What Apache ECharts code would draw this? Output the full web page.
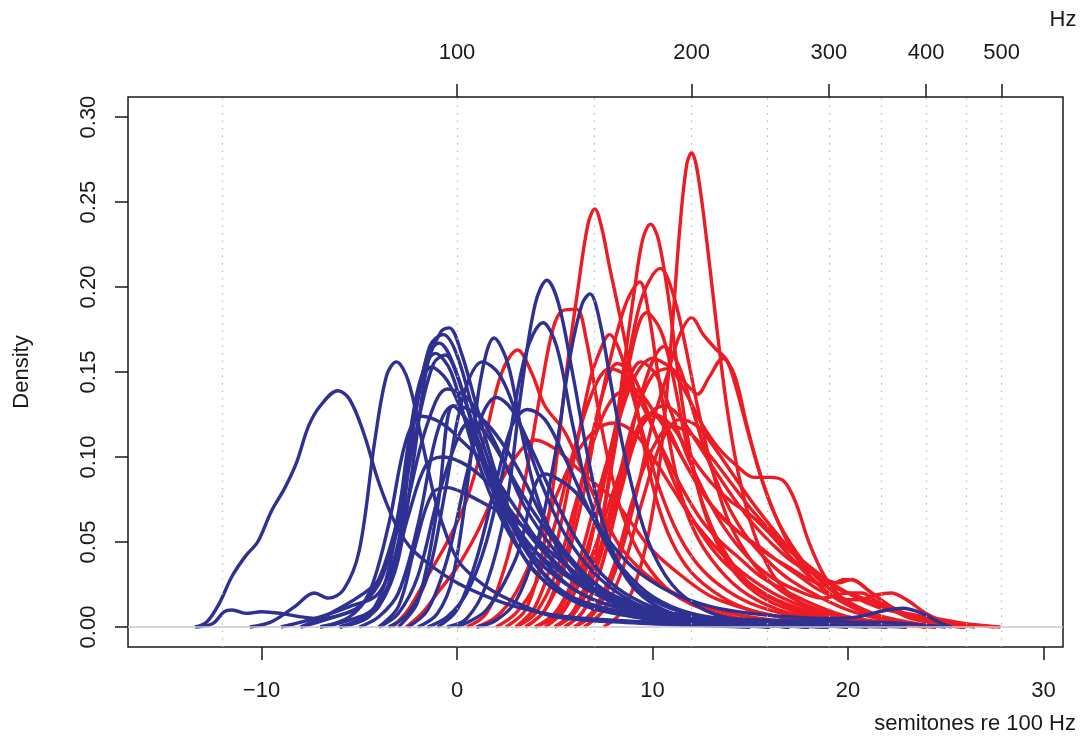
<!DOCTYPE html>
<html>
<head>
<meta charset="utf-8">
<script src="https://cdn.jsdelivr.net/npm/echarts@6/dist/echarts.min.js"></script>
<style>
html,body{margin:0;padding:0;background:#fff;}
#chart{width:1083px;height:740px;}
</style>
</head>
<body>
<div id="chart"></div>
<script>
// ---- axis ticks / labels ----
const xTicks = [-10, 0, 10, 20, 30];
const yTicks = [0, 0.05, 0.10, 0.15, 0.20, 0.25, 0.30];
const hzTicks = [100, 200, 300, 400, 500];
const hzGrid = [50, 100, 150, 200, 250, 300, 350, 400, 450, 500];

// ---- blue curves: [semitones, density] ----
const b01 = [[-13.4,0],[-12.8,0.003],[-12.2,0.013],[-11.5,0.03],[-10.8,0.042],[-10.2,0.05],[-9.5,0.068],[-8.8,0.082],[-8.2,0.097],[-7.6,0.118],[-7.0,0.13],[-6.1,0.139],[-5.5,0.134],[-4.8,0.115],[-4.0,0.085],[-3.2,0.062],[-2.4,0.047],[-1.2,0.035],[0,0.026],[1.5,0.018],[3,0.012],[5,0.007],[8,0.004],[12,0.002],[16,0]];
const b02 = [[-13.3,0],[-12.5,0.002],[-11.9,0.009],[-11.5,0.010],[-10.8,0.008],[-10,0.009],[-9,0.008],[-8,0.006],[-7,0.005],[-6,0.007],[-5,0.012],[-4,0.028],[-3,0.065],[-2,0.12],[-1.2,0.155],[-0.6,0.160],[0,0.148],[1,0.11],[2,0.075],[3,0.05],[4,0.032],[6,0.015],[8,0.008],[11,0.004],[15,0.002],[20,0.001],[23,0]];
const b03 = [[-10.6,0],[-9.5,0.003],[-8.3,0.012],[-7.3,0.02],[-6.6,0.017],[-5.8,0.022],[-5,0.045],[-4.2,0.11],[-3.6,0.148],[-3.1,0.156],[-2.5,0.145],[-1.8,0.11],[-1,0.07],[0,0.04],[1,0.028],[2,0.02],[3.5,0.012],[5,0.006],[8,0.003],[12,0.001],[15,0]];
const b04 = [[-6,0],[-5,0.004],[-4,0.012],[-3,0.04],[-2.2,0.1],[-1.5,0.155],[-0.8,0.174],[-0.4,0.176],[0.2,0.162],[1,0.13],[2,0.09],[3,0.06],[4,0.038],[5.5,0.02],[7,0.012],[9,0.006],[12,0.002],[15,0]];
const b05 = [[-8,0],[-6.5,0.008],[-5,0.018],[-4,0.028],[-3,0.06],[-2.2,0.12],[-1.4,0.165],[-0.7,0.172],[0,0.16],[1,0.12],[2,0.085],[3,0.055],[4.5,0.03],[6,0.017],[8,0.01],[10,0.006],[13,0.004],[17,0.002],[21,0]];
const b06 = [[-9,0],[-7,0.006],[-5.5,0.012],[-4,0.02],[-3,0.05],[-2.2,0.12],[-1.5,0.16],[-0.9,0.167],[-0.2,0.155],[0.8,0.12],[2,0.08],[3.5,0.048],[5,0.03],[7,0.016],[9,0.01],[12,0.006],[16,0.004],[20,0.003],[23,0.002],[25,0]];
const b07 = [[-8,0],[-6.5,0.005],[-5,0.012],[-3.8,0.03],[-2.8,0.08],[-2,0.14],[-1.1,0.161],[-0.3,0.15],[0.7,0.11],[2,0.07],[3.5,0.04],[5,0.022],[7,0.012],[10,0.006],[14,0.003],[19,0.001],[22,0]];
const b08 = [[-7,0],[-5.5,0.004],[-4.2,0.012],[-3.2,0.05],[-2.3,0.12],[-1.3,0.153],[-0.5,0.145],[0.5,0.12],[1.5,0.095],[3,0.06],[4.5,0.038],[6,0.022],[8,0.012],[11,0.006],[15,0.003],[20,0]];
const b09 = [[-6,0],[-4.5,0.006],[-3.5,0.025],[-2.5,0.075],[-1.5,0.12],[-0.5,0.14],[0.5,0.135],[1.5,0.118],[2.5,0.095],[3.5,0.07],[5,0.045],[6.5,0.027],[8,0.016],[10,0.008],[13,0.004],[16,0]];
const b10 = [[-5,0],[-4,0.006],[-3,0.02],[-2,0.06],[-1,0.115],[-0.2,0.13],[0.6,0.128],[1.5,0.12],[2.5,0.105],[3.5,0.085],[4.5,0.062],[6,0.038],[7.5,0.022],[9.5,0.012],[12,0.006],[15,0.003],[18,0]];
const b11 = [[-7,0],[-5.5,0.006],[-4.5,0.02],[-3.5,0.06],[-2.6,0.11],[-1.8,0.124],[-0.8,0.12],[0.2,0.11],[1.5,0.095],[3,0.07],[4.5,0.045],[6,0.028],[8,0.015],[10,0.008],[13,0.004],[17,0]];
const b12 = [[-6,0],[-4.5,0.008],[-3.5,0.025],[-2.5,0.065],[-1.6,0.095],[-0.8,0.1],[0.2,0.097],[1.3,0.088],[2.5,0.072],[4,0.05],[5.5,0.032],[7,0.02],[9,0.011],[12,0.005],[16,0.002],[19,0]];
const b13 = [[-4,0],[-3,0.012],[-2.2,0.045],[-1.3,0.078],[-0.5,0.082],[0.5,0.078],[1.5,0.072],[2.5,0.066],[3.5,0.058],[5,0.042],[6.5,0.028],[8,0.018],[10,0.01],[13,0.005],[17,0]];
const b14 = [[-2,0],[-1,0.008],[-0.2,0.03],[0.6,0.09],[1.2,0.145],[1.9,0.17],[2.6,0.155],[3.3,0.115],[4,0.08],[5,0.05],[6,0.03],[7.5,0.017],[9,0.01],[12,0.005],[15,0.002],[18,0]];
const b15 = [[-3.5,0],[-2.5,0.008],[-1.5,0.03],[-0.6,0.08],[0.3,0.135],[1.3,0.156],[2.2,0.148],[3.2,0.12],[4.3,0.085],[5.5,0.055],[7,0.032],[8.5,0.018],[10,0.01],[13,0.005],[16,0]];
const b16 = [[-0.5,0],[0.5,0.005],[1.5,0.025],[2.5,0.07],[3.3,0.14],[4,0.19],[4.6,0.204],[5.2,0.19],[5.9,0.15],[6.7,0.1],[7.5,0.06],[8.5,0.032],[9.5,0.018],[11,0.008],[13,0.003],[16,0]];
const b17 = [[-1.5,0],[-0.5,0.006],[0.5,0.02],[1.5,0.05],[2.5,0.1],[3.5,0.16],[4.4,0.179],[5.1,0.165],[5.9,0.12],[6.8,0.075],[7.8,0.045],[9,0.025],[10.5,0.013],[12.5,0.006],[15,0.002],[18,0]];
const b18 = [[1,0],[2,0.004],[3,0.015],[4,0.045],[5,0.1],[5.8,0.16],[6.4,0.19],[6.8,0.196],[7.3,0.18],[8,0.135],[8.8,0.09],[9.8,0.05],[11,0.025],[12.5,0.011],[14,0.005],[17,0.001],[19,0]];
const b19 = [[-2.5,0],[-1.5,0.01],[-0.5,0.04],[0.5,0.09],[1.3,0.125],[2.0,0.135],[2.8,0.128],[3.8,0.105],[5,0.075],[6.2,0.05],[7.5,0.03],[9,0.017],[11,0.008],[14,0.003],[17,0]];
const b20 = [[-1,0],[0,0.01],[1,0.04],[2,0.085],[2.8,0.118],[3.6,0.128],[4.5,0.122],[5.5,0.1],[6.5,0.075],[7.5,0.052],[8.5,0.034],[10,0.018],[12,0.008],[15,0.003],[18,0]];
const b21 = [[0,0],[1.5,0.01],[3,0.04],[4.5,0.09],[6,0.08],[7.5,0.055],[9,0.035],[11,0.02],[13,0.012],[15,0.008],[17,0.006],[19,0.005],[20.5,0.006],[22,0.010],[22.8,0.011],[23.8,0.008],[24.8,0.002],[25.3,0]];
const b22 = [[-4,0],[-3,0.008],[-2,0.03],[-1,0.075],[0,0.11],[0.6,0.12],[1.4,0.115],[2.5,0.095],[3.5,0.075],[5,0.05],[6.5,0.03],[8,0.018],[10,0.009],[13,0.004],[17,0]];
const b23 = [[-3,0],[-2,0.015],[-1,0.07],[-0.2,0.13],[0.6,0.12],[1.5,0.09],[2.5,0.065],[3.5,0.05],[5,0.035],[7,0.02],[9,0.011],[12,0.005],[15,0.002],[19,0]];

// ---- red curves: [semitones, density] ----
const r01 = [[-3.3,0],[-2.5,0.01],[-1.5,0.03],[-0.5,0.05],[0.5,0.075],[1.5,0.115],[2.3,0.15],[3.1,0.163],[3.8,0.15],[4.5,0.13],[5.5,0.115],[6.5,0.09],[7.5,0.065],[8.5,0.045],[10,0.028],[12,0.015],[14,0.008],[17,0.003],[20,0]];
const r02 = [[0.5,0],[1.5,0.008],[2.3,0.03],[3,0.06],[3.7,0.1],[4.3,0.14],[4.9,0.175],[5.4,0.186],[6.1,0.187],[6.6,0.17],[7.2,0.13],[7.8,0.095],[8.5,0.065],[9.5,0.04],[11,0.02],[13,0.009],[15,0.004],[18,0]];
const r03 = [[2.5,0],[3.5,0.01],[4.3,0.04],[5,0.09],[5.6,0.15],[6.2,0.2],[6.7,0.237],[7.05,0.246],[7.4,0.235],[7.8,0.212],[8.3,0.185],[8.9,0.15],[9.5,0.11],[10.2,0.075],[11,0.05],[12,0.032],[13.5,0.018],[15,0.01],[17,0.005],[20,0]];
const r04 = [[5,0],[6,0.01],[7,0.04],[7.8,0.09],[8.5,0.15],[9.1,0.2],[9.5,0.228],[9.9,0.237],[10.3,0.228],[10.8,0.195],[11.3,0.15],[11.9,0.105],[12.6,0.07],[13.5,0.045],[14.5,0.028],[16,0.015],[18,0.007],[20,0.003],[22,0]];
const r05 = [[7.5,0],[8.5,0.01],[9.5,0.04],[10.3,0.09],[10.9,0.16],[11.4,0.235],[11.75,0.272],[12.0,0.279],[12.3,0.268],[12.8,0.225],[13.3,0.175],[13.8,0.13],[14.4,0.09],[15.2,0.055],[16.2,0.03],[17.5,0.015],[19,0.007],[21,0.003],[23,0]];
const r06 = [[4,0],[5,0.008],[6,0.025],[7,0.06],[8,0.11],[8.8,0.16],[9.5,0.195],[10.4,0.211],[11,0.198],[11.6,0.17],[12.3,0.13],[13,0.095],[13.8,0.065],[14.7,0.045],[15.7,0.03],[17,0.018],[18.5,0.01],[20,0.005],[22,0]];
const r07 = [[3.5,0],[4.5,0.01],[5.5,0.035],[6.5,0.08],[7.3,0.13],[8,0.165],[8.7,0.192],[9.35,0.203],[9.8,0.185],[10.2,0.155],[10.7,0.12],[11.3,0.085],[12,0.06],[13,0.04],[14.5,0.022],[16.5,0.01],[19,0.004],[21,0]];
const r08 = [[5,0],[6,0.01],[7,0.04],[8,0.1],[8.8,0.155],[9.7,0.185],[10.4,0.175],[11,0.15],[11.7,0.11],[12.5,0.075],[13.5,0.048],[15,0.025],[17,0.012],[19,0.005],[21,0]];
const r09 = [[6,0],[7,0.008],[8,0.03],[9,0.07],[10,0.12],[10.8,0.15],[11.4,0.172],[12,0.182],[12.6,0.172],[13.2,0.164],[13.8,0.157],[14.3,0.14],[15,0.11],[15.8,0.08],[16.7,0.055],[17.7,0.035],[19,0.02],[20.5,0.01],[22,0.004],[24,0]];
const r10 = [[4,0],[5,0.008],[6,0.03],[7,0.07],[8,0.11],[9,0.145],[10,0.158],[11,0.152],[11.8,0.142],[12.3,0.137],[12.9,0.147],[13.6,0.158],[14.2,0.148],[14.8,0.12],[15.5,0.09],[16.3,0.065],[17.3,0.045],[18.5,0.028],[20,0.015],[21.5,0.007],[23,0.002],[24.5,0]];
const r11 = [[5,0],[6,0.01],[7,0.035],[8,0.075],[9,0.12],[10,0.148],[10.8,0.152],[11.6,0.14],[12.5,0.12],[13.4,0.105],[14.3,0.095],[15.2,0.088],[16,0.088],[16.7,0.086],[17.3,0.074],[18,0.05],[18.8,0.03],[19.8,0.016],[21,0.008],[22.5,0.003],[24,0]];
const r12 = [[3,0],[4,0.012],[5,0.045],[6,0.1],[6.8,0.145],[7.3,0.162],[7.8,0.172],[8.3,0.163],[8.9,0.14],[9.6,0.11],[10.4,0.08],[11.3,0.055],[12.3,0.037],[13.5,0.024],[15,0.014],[17,0.007],[19,0.003],[21,0]];
const r13 = [[5.5,0],[6.5,0.01],[7.5,0.04],[8.5,0.09],[9.5,0.14],[10.6,0.165],[11.3,0.155],[12,0.13],[12.8,0.1],[13.7,0.075],[14.7,0.055],[15.8,0.04],[17,0.028],[18.5,0.018],[20,0.01],[21.5,0.005],[23,0]];
const r14 = [[3.5,0],[4.5,0.01],[5.5,0.04],[6.5,0.09],[7.4,0.135],[8.2,0.155],[9,0.148],[9.8,0.125],[10.6,0.1],[11.5,0.075],[12.5,0.055],[13.5,0.04],[14.7,0.028],[16,0.018],[17.5,0.011],[19,0.006],[21,0.002],[23,0]];
const r15 = [[4.5,0],[5.5,0.01],[6.5,0.035],[7.5,0.085],[8.5,0.135],[9.4,0.156],[10.2,0.148],[11,0.125],[11.8,0.1],[12.7,0.078],[13.7,0.058],[14.8,0.042],[16,0.03],[17.3,0.022],[18.7,0.017],[20,0.02],[20.7,0.02],[21.5,0.015],[23,0.006],[24.5,0.002],[26,0]];
const r16 = [[4,0],[5,0.006],[6,0.02],[7,0.045],[8,0.08],[9,0.11],[10,0.127],[10.6,0.13],[11.3,0.125],[12.2,0.11],[13.2,0.092],[14.2,0.075],[15.2,0.06],[16.2,0.048],[17.2,0.038],[18.5,0.03],[19.5,0.026],[20.2,0.028],[21,0.022],[22.2,0.012],[23.5,0.005],[25,0.001],[26,0]];
const r17 = [[5,0],[6,0.008],[7,0.03],[8,0.07],[9,0.11],[9.8,0.125],[10.6,0.12],[11.5,0.1],[12.5,0.08],[13.5,0.065],[14.5,0.055],[15.5,0.047],[16.5,0.038],[17.5,0.03],[18.5,0.022],[19.5,0.017],[20.5,0.016],[21.5,0.019],[22.2,0.02],[23,0.016],[24,0.008],[25,0.003],[26.5,0]];
const r18 = [[1,0],[2,0.006],[3,0.02],[4,0.045],[5,0.075],[6,0.1],[7,0.115],[8,0.12],[9,0.115],[10,0.1],[11,0.082],[12,0.064],[13,0.05],[14,0.038],[15.2,0.027],[16.5,0.018],[18,0.011],[19.5,0.007],[21,0.004],[23,0.001],[24.5,0]];
const r19 = [[2,0],[3,0.008],[4,0.025],[5,0.06],[6,0.105],[7,0.14],[7.8,0.152],[8.6,0.148],[9.5,0.13],[10.5,0.105],[11.5,0.082],[12.5,0.063],[13.5,0.05],[14.5,0.04],[15.5,0.03],[17,0.02],[18.5,0.012],[20,0.006],[22,0.002],[24,0]];
const r20 = [[6.5,0],[7.5,0.01],[8.5,0.035],[9.5,0.075],[10.5,0.11],[11.4,0.122],[12.3,0.118],[13.2,0.105],[14.1,0.09],[15,0.075],[16,0.06],[17,0.046],[18,0.034],[19,0.025],[20,0.02],[21,0.016],[22,0.011],[23.5,0.006],[25,0.003],[27.5,0]];
const r21 = [[5.5,0],[6.5,0.01],[7.5,0.04],[8.5,0.085],[9.3,0.115],[10.1,0.125],[11,0.118],[12,0.1],[13,0.085],[14,0.074],[15,0.066],[16,0.055],[17,0.042],[18,0.03],[19,0.02],[20,0.013],[21.5,0.007],[23,0.003],[24.5,0]];
const r22 = [[3,0],[4,0.008],[5,0.03],[6,0.07],[7,0.11],[8,0.135],[9,0.14],[10,0.128],[11,0.11],[12,0.09],[13,0.072],[14,0.06],[15,0.05],[16,0.042],[17,0.035],[18,0.028],[19,0.024],[19.8,0.028],[20.4,0.027],[21.2,0.02],[22.2,0.012],[23.5,0.005],[25,0.001],[26,0]];
const r23 = [[6,0],[7,0.01],[8,0.035],[9,0.075],[10,0.105],[11,0.118],[12,0.113],[13,0.1],[14,0.085],[15,0.07],[16,0.057],[17,0.045],[18,0.036],[19,0.027],[20,0.02],[21,0.014],[22,0.01],[23,0.008],[24,0.006],[25,0.004],[26,0.002],[27.8,0]];
const r24 = [[-2.6,0],[-1.8,0.008],[-1,0.02],[0,0.035],[1,0.055],[2,0.08],[3,0.1],[4,0.11],[5,0.105],[6,0.095],[7,0.085],[8,0.075],[9,0.06],[10,0.045],[11.5,0.03],[13,0.018],[15,0.01],[17,0.005],[20,0]];

const blueCurves = [b01,b02,b03,b04,b05,b06,b07,b08,b09,b10,b11,b12,b13,b14,b15,b16,b17,b18,b19,b20,b21,b22,b23];
const redCurves = [r01,r02,r03,r04,r05,r06,r07,r08,r09,r10,r11,r12,r13,r14,r15,r16,r17,r18,r19,r20,r21,r22,r23,r24];

const BLUE = '#2E3192';
const RED = '#ED1C24';
const FONT = "'Liberation Sans', Arial, Helvetica, sans-serif";
const st = h => 12 * Math.log2(h / 100);

const chart = echarts.init(document.getElementById('chart'), null, {renderer: 'canvas'});

function curveSeries(data, color, name) {
  return {
    name: name, type: 'line', data: data, xAxisIndex: 0, yAxisIndex: 0,
    showSymbol: false, symbol: 'none', smooth: 0.35, silent: true,
    lineStyle: {color: color, width: 3.4}, z: 3, animation: false
  };
}

const series = [];
series.push({
  type: 'line', data: [], silent: true, animation: false, z: 1,
  markLine: {
    silent: true, symbol: ['none', 'none'], animation: false,
    label: {show: false},
    data: hzGrid.map(h => ({xAxis: st(h), lineStyle: {color: '#b8b8b8', width: 1.2, type: [1.5, 6]}}))
      .concat([{yAxis: 0, lineStyle: {color: '#c8c8c8', width: 1.5, type: 'solid'}}])
  }
});
redCurves.forEach((c, i) => series.push(curveSeries(c, RED, 'red' + i)));
blueCurves.forEach((c, i) => series.push(curveSeries(c, BLUE, 'blue' + i)));

const axisText = {color: '#1a1a1a', fontSize: 22, fontFamily: FONT};
const tickStyle = {color: '#1a1a1a', width: 1.5};

chart.setOption({
  animation: false,
  backgroundColor: '#fff',
  grid: {left: 128, right: 20, top: 97, bottom: 93, show: true, borderColor: '#1a1a1a', borderWidth: 1.5, backgroundColor: 'transparent'},
  xAxis: [
    {
      type: 'value', position: 'bottom', min: -16.83, max: 31.0,
      axisLine: {show: false, onZero: false},
      axisTick: {show: true, inside: false, customValues: xTicks, length: 13, lineStyle: tickStyle},
      axisLabel: Object.assign({customValues: xTicks, margin: 33, formatter: v => (v < 0 ? '\u2212' + Math.abs(v) : String(v))}, axisText),
      splitLine: {show: false}
    },
    {
      type: 'value', position: 'top', min: -16.83, max: 31.0,
      axisLine: {show: false, onZero: false},
      axisTick: {show: true, inside: false, customValues: hzTicks.map(st), length: 13, lineStyle: tickStyle},
      axisLabel: Object.assign({customValues: hzTicks.map(st), margin: 33, formatter: v => String(Math.round(100 * Math.pow(2, v / 12)))}, axisText),
      splitLine: {show: false}
    }
  ],
  yAxis: {
    type: 'value', min: -0.01176, max: 0.3118,
    axisLine: {show: false, onZero: false},
    axisTick: {show: true, inside: false, customValues: yTicks, length: 13, lineStyle: tickStyle},
    axisLabel: Object.assign({customValues: yTicks, margin: 28, rotate: 90, formatter: v => v.toFixed(2)}, axisText),
    splitLine: {show: false}
  },
  graphic: [
    {type: 'text', x: 1063, y: 20, style: {text: 'Hz', font: '22px ' + FONT, fill: '#1a1a1a', textAlign: 'center', textVerticalAlign: 'middle'}},
    {type: 'text', x: 1076, y: 724, style: {text: 'semitones re 100 Hz', font: '22px ' + FONT, fill: '#1a1a1a', textAlign: 'right', textVerticalAlign: 'middle'}},
    {type: 'text', x: 22, y: 372, rotation: Math.PI / 2, style: {text: 'Density', font: '22px ' + FONT, fill: '#1a1a1a', textAlign: 'center', textVerticalAlign: 'middle'}}
  ],
  series: series
});
</script>
</body>
</html>
